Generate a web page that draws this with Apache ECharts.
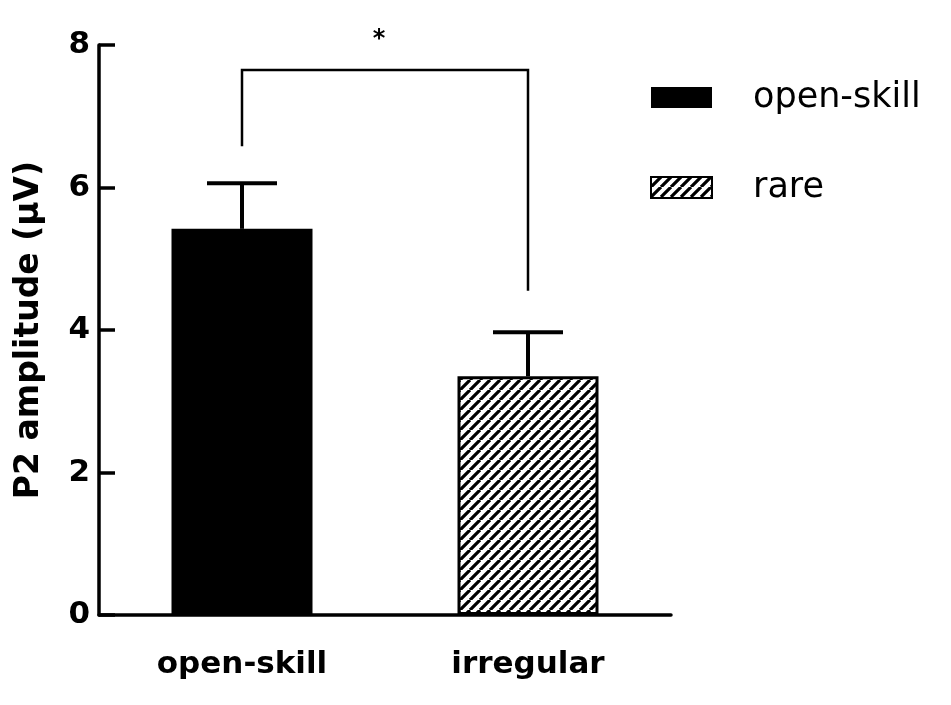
<!DOCTYPE html>
<html>
<head>
<meta charset="utf-8">
<script src="https://cdn.jsdelivr.net/npm/echarts@6/dist/echarts.min.js"></script>
<style>
  html, body { margin: 0; padding: 0; background: #fff; }
  #chart { width: 951px; height: 705px; }
</style>
</head>
<body>
<div id="chart"></div>
<script>
// ---- data ----
const categories = ['open-skill', 'irregular'];
const seriesNames = ['open-skill', 'rare'];
const means = [5.42, 3.35];
const upperErrors = [6.06, 3.97];
const yMin = 0, yMax = 8, yInterval = 2;
const yAxisTitle = 'P2 amplitude (\u03bcV)';
// significance bracket: [left end value, top value, right end value, star value]
const bracketValues = [6.58, 7.65, 4.55, 8.08];
const sigLabel = '*';

// ---- hatch pattern ----
function makeHatch() {
  const s = 10;
  const c = document.createElement('canvas');
  c.width = s; c.height = s;
  const ctx = c.getContext('2d');
  ctx.fillStyle = '#fff';
  ctx.fillRect(0, 0, s, s);
  ctx.strokeStyle = '#000';
  ctx.lineWidth = 3.2;
  ctx.beginPath();
  for (const k of [-s, 0, s]) {
    ctx.moveTo(k, s);
    ctx.lineTo(k + s, 0);
  }
  ctx.stroke();
  return c;
}
const hatch = { image: makeHatch(), repeat: 'repeat' };

const chart = echarts.init(document.getElementById('chart'), null, { renderer: 'canvas' });

const labelFont = 'DejaVu Sans';

const option = {
  backgroundColor: '#fff',
  animation: false,
  grid: { left: 99, right: 280, top: 45, bottom: 90 },
  legend: {
    orient: 'vertical',
    left: 650,
    top: 80,
    padding: 0,
    itemWidth: 61,
    itemHeight: 21,
    itemGap: 55,
    icon: 'rect',
    data: seriesNames,
    textStyle: { fontFamily: labelFont, fontSize: 35, color: '#000', padding: [0, 0, 0, 36] }
  },
  xAxis: {
    type: 'category',
    data: categories,
    axisLine: { lineStyle: { color: '#000', width: 3.5 } },
    axisTick: { show: false },
    axisLabel: { fontFamily: labelFont, fontWeight: 'bold', fontSize: 31, color: '#000', margin: 34 },
    splitLine: { show: false }
  },
  yAxis: {
    type: 'value',
    min: yMin, max: yMax, interval: yInterval,
    name: yAxisTitle,
    nameLocation: 'middle',
    nameRotate: 90,
    nameGap: 53,
    nameTextStyle: { fontFamily: labelFont, fontWeight: 'bold', fontSize: 33, color: '#000' },
    axisLine: { show: true, lineStyle: { color: '#000', width: 3.5 } },
    axisTick: { show: true, inside: true, length: 16, lineStyle: { color: '#000', width: 3.5 } },
    axisLabel: { fontFamily: labelFont, fontWeight: 'bold', fontSize: 31, color: '#000', margin: 9 },
    splitLine: { show: false }
  },
  series: [
    {
      name: seriesNames[0],
      type: 'bar',
      barWidth: 141,
      barGap: '-100%',
      data: [means[0], '-'],
      itemStyle: { color: '#000', borderColor: '#000', borderWidth: 0 }
    },
    {
      name: seriesNames[1],
      type: 'bar',
      barWidth: 141,
      barGap: '-100%',
      data: ['-', means[1]],
      itemStyle: { color: hatch, borderColor: '#000', borderWidth: 3 }
    },
    {
      type: 'custom',
      data: means.map((m, i) => [i, m, upperErrors[i]]),
      encode: { x: 0, y: 1 },
      z: 5,
      renderItem: function (params, api) {
        const base = api.coord([api.value(0), api.value(1)]);
        const top = api.coord([api.value(0), api.value(2)]);
        const half = 35;
        return {
          type: 'group',
          children: [
            { type: 'line', shape: { x1: base[0], y1: base[1], x2: top[0], y2: top[1] },
              style: { stroke: '#000', lineWidth: 4 } },
            { type: 'line', shape: { x1: top[0] - half, y1: top[1], x2: top[0] + half, y2: top[1] },
              style: { stroke: '#000', lineWidth: 4 } }
          ]
        };
      }
    },
    {
      type: 'custom',
      data: [[0, bracketValues[1], 1, bracketValues[0], bracketValues[2], bracketValues[3]]],
      encode: { x: 0, y: 1 },
      z: 5,
      clip: false,
      renderItem: function (params, api) {
        const pL0 = api.coord([api.value(0), api.value(3)]);
        const pLT = api.coord([api.value(0), api.value(1)]);
        const pRT = api.coord([api.value(2), api.value(1)]);
        const pR0 = api.coord([api.value(2), api.value(4)]);
        const pS = api.coord([api.value(0), api.value(5)]);
        return {
          type: 'group',
          children: [
            { type: 'polyline',
              shape: { points: [pL0, pLT, pRT, pR0] },
              style: { stroke: '#000', lineWidth: 2.5, fill: null } },
            { type: 'text',
              style: { text: sigLabel, x: (pLT[0] + pRT[0]) / 2 - 6, y: pS[1],
                       align: 'center', verticalAlign: 'middle',
                       font: 'bold 24px DejaVu Sans', fill: '#000' } }
          ]
        };
      }
    }
  ]
};
chart.setOption(option);
</script>
</body>
</html>
